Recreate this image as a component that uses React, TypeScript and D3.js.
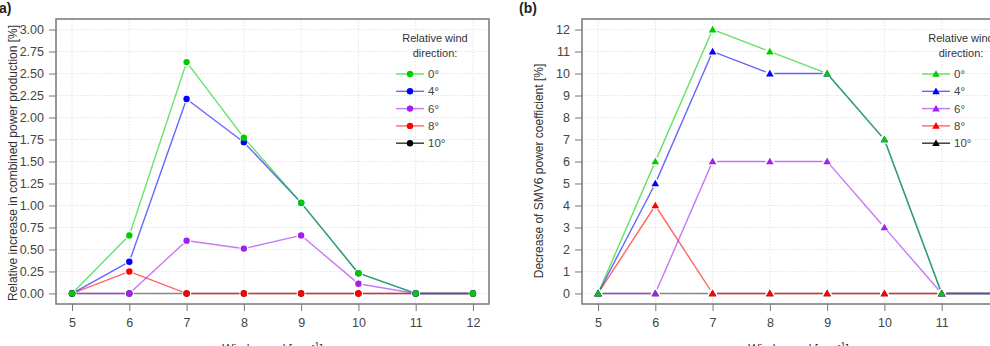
import { useEffect, useRef } from 'react';
import * as d3 from 'd3';

// wind speed categories (m/s)
const windSpeeds = [5, 6, 7, 8, 9, 10, 11, 12];
const directions = ['0°', '4°', '6°', '8°', '10°'];
const colors = ['#00cd00', '#0000ff', '#a020f0', '#ff0000', '#000000'];

// panel a: relative increase in combined power production [%]
const powerInc0 = [0, 0.66, 2.63, 1.77, 1.03, 0.23, 0, 0];
const powerInc4 = [0, 0.36, 2.21, 1.72, 1.03, 0.23, 0, 0];
const powerInc6 = [0, 0, 0.6, 0.51, 0.66, 0.11, 0, 0];
const powerInc8 = [0, 0.25, 0, 0, 0, 0, 0, 0];
const powerInc10 = [0, 0, 0, 0, 0, 0, 0, 0];

// panel b: decrease of SMV6 power coefficient [%]
const cpDec0 = [0, 6, 12, 11, 10, 7, 0, 0];
const cpDec4 = [0, 5, 11, 10, 10, 7, 0, 0];
const cpDec6 = [0, 0, 6, 6, 6, 3, 0, 0];
const cpDec8 = [0, 4, 0, 0, 0, 0, 0, 0];
const cpDec10 = [0, 0, 0, 0, 0, 0, 0, 0];

const ticksA = d3.range(0, 3.001, 0.25);
const ticksB = d3.range(0, 13, 1);

const W = 990;
const H = 346;
const FONT = 'Liberation Sans, Arial, sans-serif';

const App = () => {
  const svgRef = useRef(null);

  useEffect(() => {
    document.body.style.margin = '0';
    const svg = d3.select(svgRef.current);
    svg.selectAll('*').remove();

    const panels = [
      {
        left: 56, right: 489, tag: 'a)', tagX: -1,
        yDomain: [-0.12, 3.12], ticks: ticksA, fmt: d3.format('.2f'),
        ylab: 'Relative increase in combined power production [%]', ylabX: 13, ylabY: 163,
        series: [powerInc0, powerInc4, powerInc6, powerInc8, powerInc10],
        marker: 'circle', legendX: 410, legendTitleX: 435
      },
      {
        left: 582, right: 1015, tag: '(b)', tagX: 519,
        yDomain: [-0.48, 12.48], ticks: ticksB, fmt: d3.format('d'),
        ylab: 'Decrease of SMV6 power coefficient [%]', ylabX: 539, ylabY: 171,
        series: [cpDec0, cpDec4, cpDec6, cpDec8, cpDec10],
        marker: 'triangle', legendX: 936, legendTitleX: 961
      }
    ];

    const top = 19;
    const bottom = 304;
    const gap = 4.5;

    panels.forEach(p => {
      const x = d3.scaleLinear().domain([4.72, 12.28]).range([p.left, p.right]);
      const y = d3.scaleLinear().domain(p.yDomain).range([bottom, top]);
      const g = svg.append('g');

      // grid
      g.selectAll('.gy').data(p.ticks).enter().append('line')
        .attr('x1', p.left).attr('x2', p.right)
        .attr('y1', d => y(d)).attr('y2', d => y(d))
        .attr('stroke', '#e4e4e4').attr('stroke-width', 1).attr('stroke-dasharray', '1.5,1.5');
      g.selectAll('.gx').data(windSpeeds).enter().append('line')
        .attr('x1', d => x(d)).attr('x2', d => x(d))
        .attr('y1', top).attr('y2', bottom)
        .attr('stroke', '#e4e4e4').attr('stroke-width', 1).attr('stroke-dasharray', '1.5,1.5');

      // series, drawn back to front (10° first, 0° last)
      for (let k = p.series.length - 1; k >= 0; k--) {
        const vals = p.series[k];
        const pts = windSpeeds.map((s, i) => [x(s), y(vals[i])]);
        for (let i = 0; i < pts.length - 1; i++) {
          const [x1, y1] = pts[i];
          const [x2, y2] = pts[i + 1];
          const len = Math.hypot(x2 - x1, y2 - y1);
          if (len < gap * 2) continue;
          const ux = (x2 - x1) / len;
          const uy = (y2 - y1) / len;
          g.append('line')
            .attr('x1', x1 + ux * gap).attr('y1', y1 + uy * gap)
            .attr('x2', x2 - ux * gap).attr('y2', y2 - uy * gap)
            .attr('stroke', colors[k]).attr('stroke-opacity', k === 4 ? 0.45 : 0.6)
            .attr('stroke-width', 1.4);
        }
        drawMarkers(g, pts, colors[k], p.marker);
      }

      // frame
      g.append('rect')
        .attr('x', p.left).attr('y', top)
        .attr('width', p.right - p.left).attr('height', bottom - top)
        .attr('fill', 'none').attr('stroke', '#777').attr('stroke-width', 1.5);

      // y axis
      const yAxis = g.append('g')
        .attr('transform', `translate(${p.left - 7},0)`)
        .call(d3.axisLeft(y).tickValues(p.ticks).tickFormat(p.fmt).tickSize(6).tickPadding(4));
      yAxis.select('.domain').remove();
      yAxis.selectAll('.tick line').attr('transform', 'translate(7,0)').attr('x2', -7).attr('stroke', '#777');
      yAxis.selectAll('.tick text').attr('x', -5).attr('font-size', 12.5).attr('font-family', FONT).attr('fill', '#444');

      // x axis
      const xAxis = g.append('g')
        .attr('transform', `translate(0,${bottom})`)
        .call(d3.axisBottom(x).tickValues(windSpeeds).tickFormat(d3.format('d')).tickSize(7).tickPadding(7));
      xAxis.select('.domain').remove();
      xAxis.selectAll('.tick line').attr('stroke', '#777');
      xAxis.selectAll('.tick text').attr('font-size', 12.5).attr('font-family', FONT).attr('fill', '#444');

      // axis titles
      g.append('text')
        .attr('transform', `translate(${p.ylabX},${p.ylabY}) rotate(-90)`)
        .attr('text-anchor', 'middle').attr('dy', '0.35em')
        .attr('font-size', 12).attr('font-family', FONT).attr('fill', '#333')
        .text(p.ylab);
      // x title is cut by the bottom edge in the original figure
      const xt = g.append('text')
        .attr('x', x(8.5)).attr('y', 353)
        .attr('text-anchor', 'middle')
        .attr('font-size', 12).attr('font-family', FONT).attr('fill', '#333');
      xt.append('tspan').text('Wind speed [m s');
      xt.append('tspan').attr('dy', -5).attr('font-size', 9).text('-1');
      xt.append('tspan').attr('dy', 5).text(']');

      // panel tag
      svg.append('text')
        .attr('x', p.tagX).attr('y', 13)
        .attr('font-size', 14).attr('font-weight', 'bold').attr('font-family', FONT).attr('fill', '#222')
        .text(p.tag);

      // legend
      const lg = g.append('g');
      lg.append('text').attr('x', p.legendTitleX).attr('y', 42)
        .attr('text-anchor', 'middle').attr('font-size', 11).attr('font-family', FONT).attr('fill', '#333')
        .text('Relative wind');
      lg.append('text').attr('x', p.legendTitleX).attr('y', 57)
        .attr('text-anchor', 'middle').attr('font-size', 11).attr('font-family', FONT).attr('fill', '#333')
        .text('direction:');
      directions.forEach((d, k) => {
        const ly = 74 + k * 17.3;
        lg.append('line')
          .attr('x1', p.legendX - 14).attr('x2', p.legendX + 14)
          .attr('y1', ly).attr('y2', ly)
          .attr('stroke', colors[k]).attr('stroke-opacity', k === 4 ? 0.8 : 0.6).attr('stroke-width', 1.4);
        drawMarkers(lg, [[p.legendX, ly]], colors[k], p.marker);
        lg.append('text').attr('x', p.legendX + 18).attr('y', ly).attr('dy', '0.35em')
          .attr('font-size', 11.5).attr('font-family', FONT).attr('fill', '#444')
          .text(d);
      });
    });

    function drawMarkers(g, pts, color, kind) {
      pts.forEach(([px, py]) => {
        if (kind === 'circle') {
          g.append('circle').attr('cx', px).attr('cy', py).attr('r', 3.2).attr('fill', color);
        } else {
          const s = 3.8;
          g.append('path')
            .attr('d', `M${px},${py - s}L${px + s},${py + s * 0.75}L${px - s},${py + s * 0.75}Z`)
            .attr('fill', color);
        }
      });
    }
  }, []);

  return (
    <div style={{ position: 'relative' }}>
      <svg ref={svgRef} width={W} height={H} style={{ display: 'block', background: '#fff' }}></svg>
    </div>
  );
};

export default App;
